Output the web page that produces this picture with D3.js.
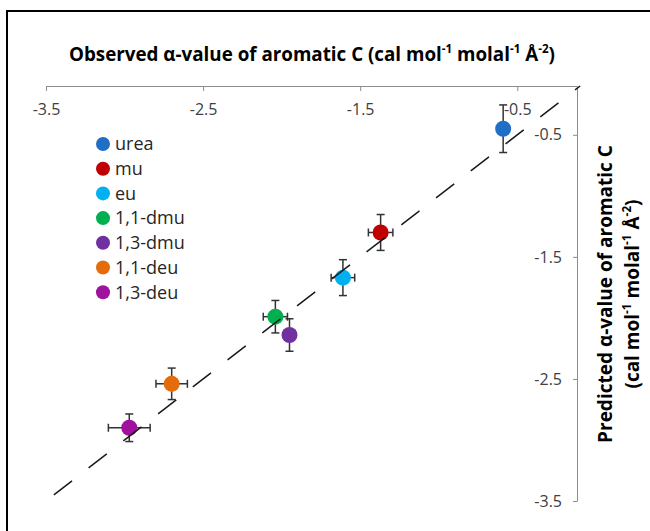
<!DOCTYPE html>
<html>
<head>
<meta charset="utf-8">
<script src="https://cdn.jsdelivr.net/npm/d3@7"></script>
<style>
  html, body { margin: 0; padding: 0; background: #fff; }
  svg { display: block; font-family: "Open Sans", sans-serif; }
</style>
</head>
<body>
<div id="chart"></div>
<script>
"use strict";

// series
const compounds = ["urea", "mu", "eu", "1,1-dmu", "1,3-dmu", "1,1-deu", "1,3-deu"];
const observed = [-0.59, -1.37, -1.61, -2.04, -1.95, -2.70, -2.97];
const predicted = [-0.45, -1.30, -1.67, -1.99, -2.14, -2.54, -2.90];
const observedErr = [0.03, 0.078, 0.075, 0.077, 0.02, 0.10, 0.133];
const predictedErr = [0.195, 0.147, 0.147, 0.133, 0.133, 0.129, 0.113];
const colors = ["#1f6fc6", "#c00000", "#00b0f0", "#00b050", "#7030a0", "#e46c0a", "#a0119e"];
const xTicks = [-3.5, -2.5, -1.5, -0.5];
const yTicks = [-3.5, -2.5, -1.5, -0.5];
const parityLine = [-3.45, -0.1]; // y = x

const width = 650, height = 531;

const svg = d3.select("#chart").append("svg")
    .attr("width", width)
    .attr("height", height);

svg.append("rect")
    .attr("x", 7).attr("y", 11)
    .attr("width", 700).attr("height", 600)
    .attr("fill", "none")
    .attr("stroke", "#000")
    .attr("stroke-width", 2);

const x = d3.scaleLinear().domain([-3.5, -0.12]).range([46, 577]);
const y = d3.scaleLinear().domain([-3.5, -0.1]).range([501, 86]);

// text with superscripts
function richText(sel, parts, size) {
    let shift = 0;
    parts.forEach(([t, sup]) => {
        const dy = sup ? -size * 0.42 : 0;
        sel.append("tspan")
            .attr("dy", dy - shift)
            .attr("font-size", sup ? size * 0.62 : size)
            .text(t);
        shift = dy;
    });
}

const unitParts = [["(cal mol", false], ["-1", true], [" molal", false], ["-1", true], [" Å", false], ["-2", true], [")", false]];

// x axis sits on top
const xAxis = svg.append("g")
    .attr("transform", `translate(0,${y.range()[1]})`)
    .call(d3.axisBottom(x).tickValues(xTicks).tickFormat(d => d.toFixed(1))
        .tickSizeInner(5).tickSizeOuter(0).tickPadding(13));

const yAxis = svg.append("g")
    .attr("transform", `translate(${x.range()[1]},0)`)
    .call(d3.axisLeft(y).tickValues(yTicks).tickFormat(d => d.toFixed(1))
        .tickSizeInner(4).tickSizeOuter(0).tickPadding(11));

[xAxis, yAxis].forEach(a => {
    a.select(".domain").attr("stroke", "#8c8c8c");
    a.selectAll(".tick line").attr("stroke", "#8c8c8c");
    a.selectAll(".tick text")
        .attr("fill", "#404040")
        .attr("font-size", 16)
        .attr("font-family", "'Open Sans', sans-serif");
});

// titles
const title = svg.append("text")
    .attr("x", 312).attr("y", 61)
    .attr("text-anchor", "middle")
    .attr("font-weight", "bold")
    .attr("fill", "#000");
richText(title, [["Observed α-value of aromatic C ", false]].concat(unitParts), 18.8);

const yTitle1 = svg.append("text")
    .attr("transform", "translate(612,294) rotate(-90)")
    .attr("text-anchor", "middle")
    .attr("font-weight", "bold")
    .attr("font-size", 19)
    .text("Predicted α-value of aromatic C");

const yTitle2 = svg.append("text")
    .attr("transform", "translate(639,294) rotate(-90)")
    .attr("text-anchor", "middle")
    .attr("font-weight", "bold");
richText(yTitle2, unitParts, 19);

// data
const rows = compounds.map((name, i) => ({
    name,
    ox: observed[i],
    py: predicted[i],
    ex: observedErr[i],
    ey: predictedErr[i],
    color: colors[i]
}));

const cap = 4;
const errG = svg.append("g")
    .attr("stroke", "#333")
    .attr("stroke-width", 1.5);

rows.forEach(d => {
    const cx = x(d.ox), cy = y(d.py);
    const y0 = y(d.py - d.ey), y1 = y(d.py + d.ey);
    const x0 = x(d.ox - d.ex), x1 = x(d.ox + d.ex);
    const g = errG.append("g");
    g.append("line").attr("x1", cx).attr("x2", cx).attr("y1", y0).attr("y2", y1);
    g.append("line").attr("x1", cx - cap).attr("x2", cx + cap).attr("y1", y0).attr("y2", y0);
    g.append("line").attr("x1", cx - cap).attr("x2", cx + cap).attr("y1", y1).attr("y2", y1);
    g.append("line").attr("x1", x0).attr("x2", x1).attr("y1", cy).attr("y2", cy);
    g.append("line").attr("x1", x0).attr("x2", x0).attr("y1", cy - cap).attr("y2", cy + cap);
    g.append("line").attr("x1", x1).attr("x2", x1).attr("y1", cy - cap).attr("y2", cy + cap);
});

svg.append("g")
    .selectAll("circle")
    .data(rows)
    .join("circle")
    .attr("cx", d => x(d.ox))
    .attr("cy", d => y(d.py))
    .attr("r", 8)
    .attr("fill", d => d.color);

// dashed y = x line, drawn over the markers
svg.append("line")
    .attr("x1", x(parityLine[0])).attr("y1", y(parityLine[0]))
    .attr("x2", x(parityLine[1])).attr("y2", y(parityLine[1]))
    .attr("stroke", "#1a1a1a")
    .attr("stroke-width", 1.5)
    .attr("stroke-dasharray", "23,21");

// legend
const legend = svg.append("g").attr("transform", "translate(103,144)");
const item = legend.selectAll("g")
    .data(rows)
    .join("g")
    .attr("transform", (d, i) => `translate(0,${i * 24.7})`);
item.append("circle").attr("r", 7).attr("fill", d => d.color);
item.append("text")
    .attr("x", 12)
    .attr("dy", "0.35em")
    .attr("font-size", 18)
    .attr("fill", "#262626")
    .text(d => d.name);
</script>
</body>
</html>
